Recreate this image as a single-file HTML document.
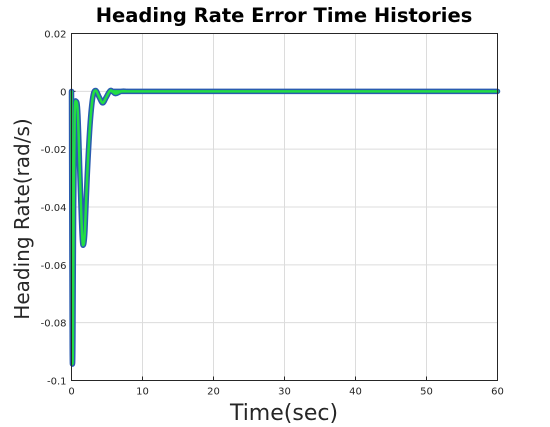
<!DOCTYPE html>
<html><head><meta charset="utf-8"><style>
body{margin:0;background:#fff;}
svg{display:block;font-family:"DejaVu Sans","Liberation Sans",sans-serif;}
</style></head><body>
<svg id="chart" width="550" height="427">
<rect x="0" y="0" width="550" height="427" fill="#fff"/>
<text x="284" y="22" text-anchor="middle" font-size="19.5" font-weight="bold">Heading Rate Error Time Histories</text>
<g id="grid"></g>
<g id="ticks"></g>
<g id="series"></g>
<rect x="71.5" y="33.5" width="426" height="347" fill="none" stroke="#262626" stroke-width="1"/>
<text x="284" y="420" text-anchor="middle" font-size="22" fill="#262626">Time(sec)</text>
<text transform="translate(29,219) rotate(-90)" text-anchor="middle" font-size="20" fill="#262626">Heading Rate(rad/s)</text>
</svg>
<script>
const xTicks=[0,10,20,30,40,50,60];
const yTicks=[0.02,0,-0.02,-0.04,-0.06,-0.08,-0.1];
const yTickLabels=["0.02","0","-0.02","-0.04","-0.06","-0.08","-0.1"];
const times=[0,0.05,0.1,0.15,0.2,0.3,0.45,0.66,0.9,1.2,1.5,1.7,1.9,2.2,2.6,3.0,3.4,3.9,4.4,4.9,5.5,6.2,7,8,10,60];
const values=[0,-0.05,-0.088,-0.094,-0.085,-0.04,-0.008,-0.0035,-0.008,-0.03,-0.05,-0.053,-0.048,-0.03,-0.012,-0.002,0.0003,-0.002,-0.004,-0.002,0.0003,-0.0008,0,0,0,0];
const X0=71.5,X1=497.5,Y0=380.5,Y1=33.5;
const xs=t=>X0+(t-0)/(60-0)*(X1-X0);
const ys=v=>Y0-(v-(-0.1))/(0.02-(-0.1))*(Y0-Y1);
const NS="http://www.w3.org/2000/svg";
const grid=document.getElementById('grid'),ticks=document.getElementById('ticks'),series=document.getElementById('series');
function mk(tag,at,parent){const e=document.createElementNS(NS,tag);for(const k in at)e.setAttribute(k,at[k]);parent.appendChild(e);return e;}
xTicks.forEach(t=>{
  const x=xs(t);
  const g=mk('line',{x1:x,x2:x,y1:Y1,y2:Y0,stroke:'#dcdcdc','stroke-width':1},grid);
  
  
  const tk=mk('line',{x1:x,x2:x,y1:Y0,y2:Y0-4,stroke:'#262626'},ticks);
  
  
  const lb=mk('text',{x:x,y:Y0+14,'text-anchor':'middle','font-size':10,fill:'#262626'},ticks);
  lb.textContent=String(t);
  
  
});
yTicks.forEach((v,i)=>{
  const y=ys(v);
  const g=mk('line',{x1:X0,x2:X1,y1:y,y2:y,stroke:'#dcdcdc','stroke-width':1},grid);
  
  
  const tk=mk('line',{x1:X0,x2:X0+4,y1:y,y2:y,stroke:'#262626'},ticks);
  
  
  const lb=mk('text',{x:X0-5,y:y+4,'text-anchor':'end','font-size':10,fill:'#262626'},ticks);
  lb.textContent=yTickLabels[i];
  
  
});
const P=times.map((t,i)=>[xs(t),ys(values[i])]);
let d='M'+P[0][0]+','+P[0][1];
for(let i=0;i<P.length-1;i++){
  const p0=P[Math.max(0,i-1)],p1=P[i],p2=P[i+1],p3=P[Math.min(P.length-1,i+2)];
  const c1=[p1[0]+(p2[0]-p0[0])/6,p1[1]+(p2[1]-p0[1])/6];
  const c2=[p2[0]-(p3[0]-p1[0])/6,p2[1]-(p3[1]-p1[1])/6];
  d+=` C${c1[0]},${c1[1]} ${c2[0]},${c2[1]} ${p2[0]},${p2[1]}`;
}
const outer=mk('path',{d:d,fill:'none',stroke:'#2a5bb0','stroke-width':5.5,'stroke-linejoin':'round','stroke-linecap':'round'},series);


const inner=mk('path',{d:d,fill:'none',stroke:'#22dd44','stroke-width':2.5,'stroke-linejoin':'round','stroke-linecap':'round'},series);


</script>
</body></html>
